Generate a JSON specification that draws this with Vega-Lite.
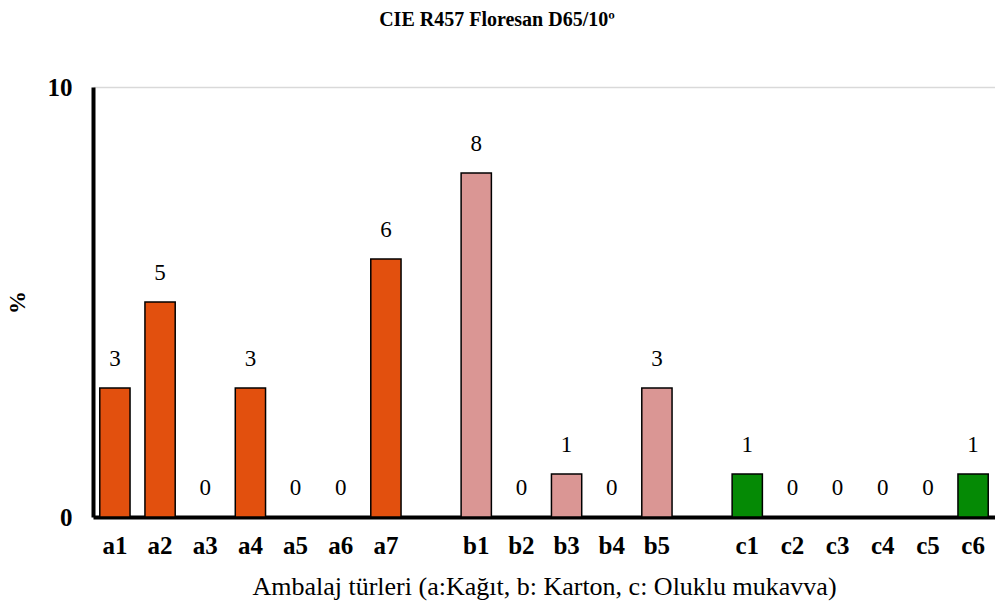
{
  "$schema": "https://vega.github.io/schema/vega-lite/v6.json",
  "width": 902,
  "height": 430,
  "autosize": "none",
  "padding": {"left": 93, "top": 87, "right": 0, "bottom": 88},
  "background": "white",
  "config": {
    "font": "Liberation Serif",
    "view": {"stroke": null}
  },
  "title": {
    "text": "CIE R457 Floresan D65/10º",
    "font": "Liberation Serif",
    "fontSize": 20,
    "fontWeight": "bold",
    "color": "black",
    "offset": 45,
    "dx": -47
  },
  "data": {
    "values": [
      {"tur": "a1", "grup": "a", "deger": 3},
      {"tur": "a2", "grup": "a", "deger": 5},
      {"tur": "a3", "grup": "a", "deger": 0},
      {"tur": "a4", "grup": "a", "deger": 3},
      {"tur": "a5", "grup": "a", "deger": 0},
      {"tur": "a6", "grup": "a", "deger": 0},
      {"tur": "a7", "grup": "a", "deger": 6},
      {"tur": "b1", "grup": "b", "deger": 8},
      {"tur": "b2", "grup": "b", "deger": 0},
      {"tur": "b3", "grup": "b", "deger": 1},
      {"tur": "b4", "grup": "b", "deger": 0},
      {"tur": "b5", "grup": "b", "deger": 3},
      {"tur": "c1", "grup": "c", "deger": 1},
      {"tur": "c2", "grup": "c", "deger": 0},
      {"tur": "c3", "grup": "c", "deger": 0},
      {"tur": "c4", "grup": "c", "deger": 0},
      {"tur": "c5", "grup": "c", "deger": 0},
      {"tur": "c6", "grup": "c", "deger": 1}
    ]
  },
  "encoding": {
    "x": {
      "field": "tur",
      "type": "nominal",
      "sort": null,
      "scale": {
        "domain": ["a1","a2","a3","a4","a5","a6","a7","g1","b1","b2","b3","b4","b5","g2","c1","c2","c3","c4","c5","c6"],
        "paddingInner": 0.33,
        "paddingOuter": 0.15
      },
      "axis": {
        "title": "Ambalaj türleri (a:Kağıt, b: Karton, c: Oluklu mukavva)",
        "titleFont": "Liberation Serif",
        "titleFontSize": 26,
        "titleFontWeight": "normal",
        "titleColor": "black",
        "titlePadding": 15,
        "labelExpr": "indexof(datum.value,'g')==0 ? '' : datum.value",
        "labelAngle": 0,
        "labelFont": "Liberation Serif",
        "labelFontSize": 25,
        "labelFontWeight": "bold",
        "labelColor": "black",
        "labelPadding": 16,
        "ticks": false,
        "domainColor": "black",
        "domainWidth": 4,
        "grid": false
      }
    },
    "y": {
      "field": "deger",
      "type": "quantitative",
      "scale": {"domain": [0, 10], "nice": false},
      "axis": {
        "title": "%",
        "titleFont": "Liberation Serif",
        "titleFontSize": 23,
        "titleFontWeight": "bold",
        "titleColor": "black",
        "titlePadding": 18,
        "values": [0, 10],
        "labelFont": "Liberation Serif",
        "labelFontSize": 25,
        "labelFontWeight": "bold",
        "labelColor": "black",
        "labelPadding": 21,
        "ticks": false,
        "domainColor": "black",
        "domainWidth": 4,
        "grid": true,
        "gridColor": "#d9d9d9",
        "gridWidth": 1.5
      }
    }
  },
  "layer": [
    {
      "mark": {"type": "bar", "stroke": "black", "strokeWidth": 1.5},
      "encoding": {
        "color": {
          "field": "grup",
          "type": "nominal",
          "scale": {"domain": ["a", "b", "c"], "range": ["#E2500E", "#DA9694", "#058A05"]},
          "legend": null
        }
      }
    },
    {
      "mark": {"type": "text", "font": "Liberation Serif", "fontSize": 23, "color": "black", "baseline": "alphabetic", "dy": -22},
      "encoding": {
        "text": {"field": "deger", "type": "quantitative"}
      }
    }
  ]
}
